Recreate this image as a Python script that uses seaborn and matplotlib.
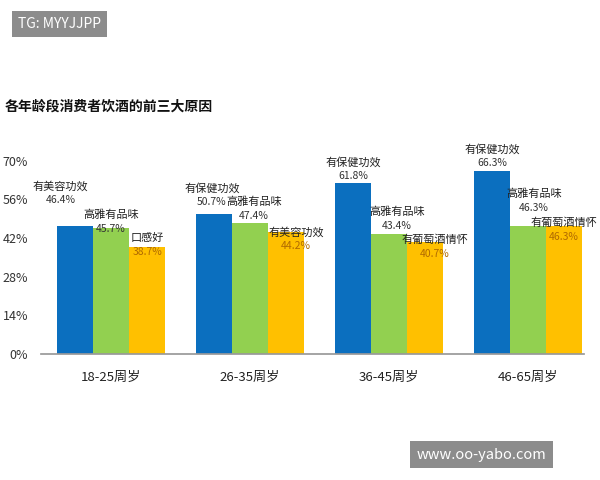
import matplotlib
matplotlib.use("Agg")
import matplotlib.pyplot as plt
import seaborn as sns
import pandas as pd

ages = ["18-25周岁", "26-35周岁", "36-45周岁", "46-65周岁"]
reasons = [
    ["有美容功效", "高雅有品味", "口感好"],
    ["有保健功效", "高雅有品味", "有美容功效"],
    ["有保健功效", "高雅有品味", "有葡萄酒情怀"],
    ["有保健功效", "高雅有品味", "有葡萄酒情怀"],
]
values = [
    [46.4, 45.7, 38.7],
    [50.7, 47.4, 44.2],
    [61.8, 43.4, 40.7],
    [66.3, 46.3, 46.3],
]
yticks = [0, 14, 28, 42, 56, 70]

# label placement (pixels above bar top) -- purely layout
label_dy = [[26, -1, -5], [12, 7, -14], [7, 8, -12], [8, 18, -11]]
label_dx = [[-14, 0, 0], [-2, 4, 10], [0, 8, 10], [0, 6, 0]]

rows = []
for a, vals in zip(ages, values):
    for rank, v in enumerate(vals):
        rows.append({"age": a, "rank": rank, "value": v})
df = pd.DataFrame(rows)

sns.set_theme(style="white")
plt.rcParams["font.family"] = ["Noto Sans CJK SC", "DejaVu Sans"]

fig = plt.figure(figsize=(6, 4.8), dpi=100)
ax = fig.add_axes([0.069, 0.2625, 0.927, 0.4025])
palette = ["#0b6fbf", "#92d050", "#ffc000"]
sns.barplot(data=df, x="age", y="value", hue="rank", palette=palette,
            width=0.78, gap=0.0, ax=ax, legend=False, saturation=1,
            edgecolor="none", linewidth=0)

ax.set_ylim(0, 70)
ax.set_yticks(yticks)
ax.set_yticklabels([f"{t}%" for t in yticks], fontsize=9, color="#333333")
ax.set_xlabel("")
ax.set_ylabel("")
ax.tick_params(axis="x", labelsize=9.5, colors="#222222", pad=6)
for s in ["top", "right", "left"]:
    ax.spines[s].set_visible(False)
ax.spines["bottom"].set_color("#999999")
ax.spines["bottom"].set_bounds(-0.5, 3.4)

px = 72 / 100
for gi, container in enumerate(ax.containers):
    for bi, bar in enumerate(container):
        rank = gi
        age_i = bi
        v = values[age_i][rank]
        cx = bar.get_x() + bar.get_width() / 2
        dy = label_dy[age_i][rank] * px
        dx = label_dx[age_i][rank] * px
        vcol = "#b06a00" if rank == 2 else "#333333"
        ax.annotate(f"{v}%", (cx, v), xytext=(dx, dy), textcoords="offset points",
                    ha="center", va="center", fontsize=7.5, color=vcol,
                    annotation_clip=False)
        ax.annotate(reasons[age_i][rank], (cx, v), xytext=(dx, dy + 14 * px),
                    textcoords="offset points", ha="center", va="center",
                    fontsize=8, color="#222222", annotation_clip=False)

fig.text(0.008, 0.777, "各年龄段消费者饮酒的前三大原因", fontsize=10,
         fontweight="bold", color="#111111", va="center")
fig.text(0.03, 0.95, "TG: MYYJJPP", fontsize=10, color="white", va="center",
         bbox=dict(boxstyle="square,pad=0.45", fc="#8c8c8c", ec="none"))
fig.text(0.695, 0.053, "www.oo-yabo.com", fontsize=10.5, color="white", va="center",
         bbox=dict(boxstyle="square,pad=0.45", fc="#8c8c8c", ec="none"))

fig.savefig("out.png", dpi=100)
